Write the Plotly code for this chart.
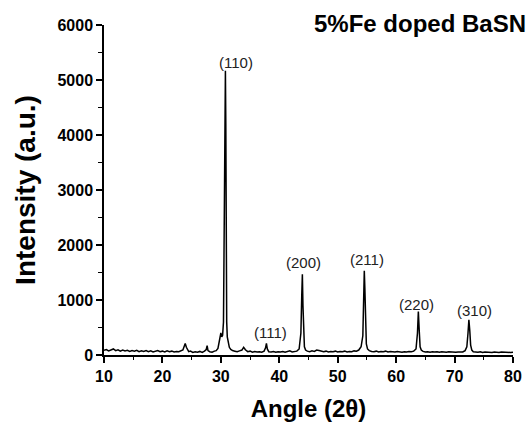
import plotly.graph_objects as go

angle = [10.0, 10.4, 10.8, 11.2, 11.6, 12.0, 12.4, 12.8, 13.2, 13.6, 14.0, 14.4, 14.8, 15.2, 15.6,
         16.0, 16.4, 16.8, 17.2, 17.6, 18.0, 18.4, 18.8, 19.2, 19.6, 20.0, 20.4, 20.8, 21.2, 21.6,
         22.0, 22.4, 22.8, 23.2, 23.5, 23.7, 23.9, 24.1, 24.3, 24.5, 24.8, 25.2, 25.6, 26.0, 26.4,
         26.8, 27.2, 27.5, 27.65, 27.8, 28.1, 28.5, 28.9, 29.2, 29.5, 29.8, 30.0, 30.15, 30.3, 30.45,
         30.6, 30.7, 30.78, 30.85, 30.92, 31.0, 31.1, 31.25, 31.45, 31.7, 32.0, 32.4, 32.8, 33.2, 33.6,
         33.9, 34.2, 34.6, 35.0, 35.4, 35.8, 36.2, 36.6, 37.0, 37.4, 37.65, 37.8, 37.95, 38.2, 38.6,
         39.0, 39.4, 39.8, 40.2, 40.6, 41.0, 41.4, 41.8, 42.2, 42.6, 43.0, 43.4, 43.7, 43.85, 43.95,
         44.05, 44.15, 44.3, 44.5, 44.8, 45.2, 45.6, 46.0, 46.4, 46.8, 47.2, 47.6, 48.0, 48.4, 48.8,
         49.2, 49.6, 50.0, 50.4, 50.8, 51.2, 51.6, 52.0, 52.4, 52.8, 53.2, 53.6, 54.0, 54.3, 54.45,
         54.55, 54.65, 54.75, 54.9, 55.1, 55.4, 55.8, 56.2, 56.6, 57.0, 57.4, 57.8, 58.2, 58.6, 59.0,
         59.4, 59.8, 60.2, 60.6, 61.0, 61.4, 61.8, 62.2, 62.6, 63.0, 63.4, 63.65, 63.8, 63.95, 64.1,
         64.3, 64.6, 65.0, 65.4, 65.8, 66.2, 66.6, 67.0, 67.4, 67.8, 68.2, 68.6, 69.0, 69.4, 69.8,
         70.2, 70.6, 71.0, 71.4, 71.8, 72.1, 72.3, 72.45, 72.6, 72.75, 72.95, 73.2, 73.6, 74.0, 74.4,
         74.8, 75.2, 75.6, 76.0, 76.4, 76.8, 77.2, 77.6, 78.0, 78.4, 78.8, 79.2, 79.6, 80.0]

intensity = [85, 100, 75, 95, 110, 80, 95, 70, 90, 75, 85, 65, 80, 70, 85,
             60, 75, 65, 80, 60, 75, 55, 70, 80, 60, 70, 55, 75, 60, 70,
             55, 65, 60, 70, 90, 150, 210, 140, 90, 60, 70, 45, 60, 50, 65,
             45, 70, 100, 170, 80, 60, 50, 70, 80, 120, 300, 400, 330, 360, 600,
             2200, 4600, 5170, 4200, 1800, 600, 330, 220, 140, 100, 80, 70, 60, 75, 90,
             140, 95, 60, 70, 50, 65, 55, 60, 50, 70, 130, 210, 110, 60, 55,
             65, 50, 60, 55, 65, 50, 60, 75, 55, 65, 70, 110, 400, 1100, 1470,
             900, 350, 150, 90, 70, 60, 75, 65, 90, 80, 70, 60, 70, 55, 65,
             60, 70, 55, 65, 60, 70, 55, 65, 60, 75, 70, 90, 150, 350, 900,
             1530, 1200, 500, 200, 110, 80, 65, 60, 70, 55, 65, 60, 70, 55, 65,
             60, 55, 65, 60, 50, 60, 55, 65, 60, 70, 110, 400, 790, 450, 150,
             90, 65, 55, 60, 50, 60, 55, 60, 50, 60, 55, 50, 60, 55, 60,
             50, 55, 60, 55, 80, 150, 400, 640, 450, 180, 90, 60, 55, 50, 60,
             45, 55, 50, 55, 45, 55, 50, 45, 55, 50, 45, 50, 45, 50]

peak_labels = ["(110)", "(111)", "(200)", "(211)", "(220)", "(310)"]
label_x = [32.55, 38.45, 44.17, 54.93, 63.48, 73.39]
label_y = [5315, 410, 1678, 1733, 915, 805]

title_text = "5%Fe doped BaSN"

FONT = "Liberation Sans, Arial, sans-serif"

fig = go.Figure()
fig.add_trace(go.Scatter(x=angle, y=intensity, mode="lines",
                         line=dict(color="black", width=1.5), showlegend=False))

for t, x, y in zip(peak_labels, label_x, label_y):
    fig.add_annotation(x=x, y=y, text=t, showarrow=False, xanchor="center", yanchor="middle",
                       font=dict(family=FONT, size=15, color="#222"))

fig.add_annotation(xref="paper", yref="paper", x=0.508, y=1.006, text=title_text,
                   showarrow=False, xanchor="left", yanchor="middle",
                   font=dict(family=FONT, size=24, color="black", weight="bold"))

axis_common = dict(showgrid=False, zeroline=False, showline=True, linecolor="black", linewidth=1.5,
                   ticks="outside", ticklen=6, tickwidth=1.5, tickcolor="black", automargin=False,
                   tickfont=dict(family=FONT, size=16, color="black", weight="bold"))

fig.update_xaxes(range=[10, 80], tick0=10, dtick=10,
                 minor=dict(ticks="outside", ticklen=3, tickwidth=1.2, tickcolor="black", dtick=5),
                 title=dict(text="Angle (2θ)", font=dict(family=FONT, size=24, color="black", weight="bold"),
                            standoff=17),
                 **axis_common)
fig.update_yaxes(range=[0, 6000], tick0=0, dtick=1000,
                 minor=dict(ticks="outside", ticklen=4, tickwidth=1.2, tickcolor="black", dtick=500),
                 title=dict(text="Intensity (a.u.)", font=dict(family=FONT, size=28, color="black", weight="bold"),
                            standoff=14),
                 **axis_common)

fig.update_layout(width=528, height=422, margin=dict(l=104, r=15, t=25, b=67),
                  plot_bgcolor="white", paper_bgcolor="white")

fig.write_html("out.html")
